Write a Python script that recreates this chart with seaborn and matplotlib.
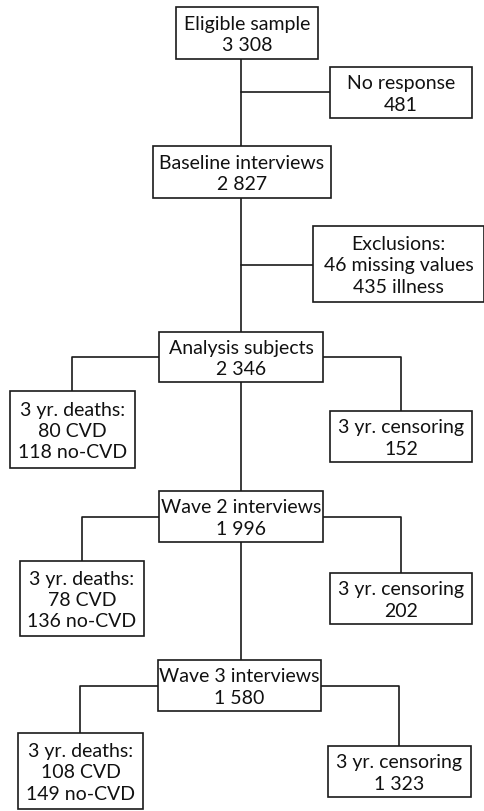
import matplotlib
matplotlib.use("Agg")
import matplotlib.pyplot as plt
from matplotlib.patches import Rectangle
import seaborn as sns

sns.set_theme(style="white")
plt.rcParams['font.family'] = ['Lato', 'DejaVu Sans']

# -- flow chart content --
main_labels = ["Eligible sample", "Baseline interviews", "Analysis subjects",
               "Wave 2 interviews", "Wave 3 interviews"]
main_counts = ["3 308", "2 827", "2 346", "1 996", "1 580"]
side_labels = ["No response\n481",
               "Exclusions:\n46 missing values\n435 illness"]
death_cvd = [80, 78, 108]
death_nocvd = [118, 136, 149]
censored = ["152", "202", "1 323"]

# -- layout (pixel coords, y down): x0, y0, x1, y1 --
main_boxes = [(176, 8, 318, 60), (153, 147, 331, 199), (159, 333, 323, 383),
              (159, 492, 323, 543), (158, 661, 321, 712)]
side_boxes = [(330, 68, 472, 119), (313, 227, 484, 303)]
side_join_y = [93, 266]
death_boxes = [(10, 392, 135, 469), (20, 562, 144, 637), (18, 734, 143, 810)]
cens_boxes = [(330, 412, 472, 463), (330, 574, 472, 625), (328, 747, 471, 798)]

fig = plt.figure(figsize=(4.85, 8.12), dpi=100)
ax = fig.add_axes([0, 0, 1, 1])
ax.set_xlim(0, 485)
ax.set_ylim(812, 0)
ax.axis("off")

lc = "#1a1a1a"
lw = 1.2
fs = 14


def box(b, text):
    x0, y0, x1, y1 = b
    ax.add_patch(Rectangle((x0, y0), x1 - x0, y1 - y0, fill=True,
                           facecolor="white", edgecolor=lc, lw=lw, zorder=3))
    ax.text((x0 + x1) / 2, (y0 + y1) / 2 + 1, text, ha="center", va="center",
            fontsize=fs, color="#111111", linespacing=1.32, zorder=4)


cx = 241
# vertical spine
ax.plot([cx, cx], [main_boxes[0][3], main_boxes[-1][1]], color=lc, lw=lw, zorder=1)

for b, lab, n in zip(main_boxes, main_labels, main_counts):
    box(b, f"{lab}\n{n}")

for b, yj, t in zip(side_boxes, side_join_y, side_labels):
    ax.plot([cx, b[0]], [yj, yj], color=lc, lw=lw, zorder=1)
    box(b, t)

for i in range(3):
    mb = main_boxes[i + 2]
    yj = (mb[1] + mb[3]) / 2
    db = death_boxes[i]
    dx = (db[0] + db[2]) / 2
    ax.plot([mb[0], dx, dx], [yj, yj, db[1]], color=lc, lw=lw, zorder=1)
    cb = cens_boxes[i]
    rx = (cb[0] + cb[2]) / 2
    ax.plot([mb[2], rx, rx], [yj, yj, cb[1]], color=lc, lw=lw, zorder=1)
    box(db, f"3 yr. deaths:\n{death_cvd[i]} CVD\n{death_nocvd[i]} no-CVD")
    box(cb, f"3 yr. censoring\n{censored[i]}")

fig.savefig("out.png", dpi=100, facecolor="white")
